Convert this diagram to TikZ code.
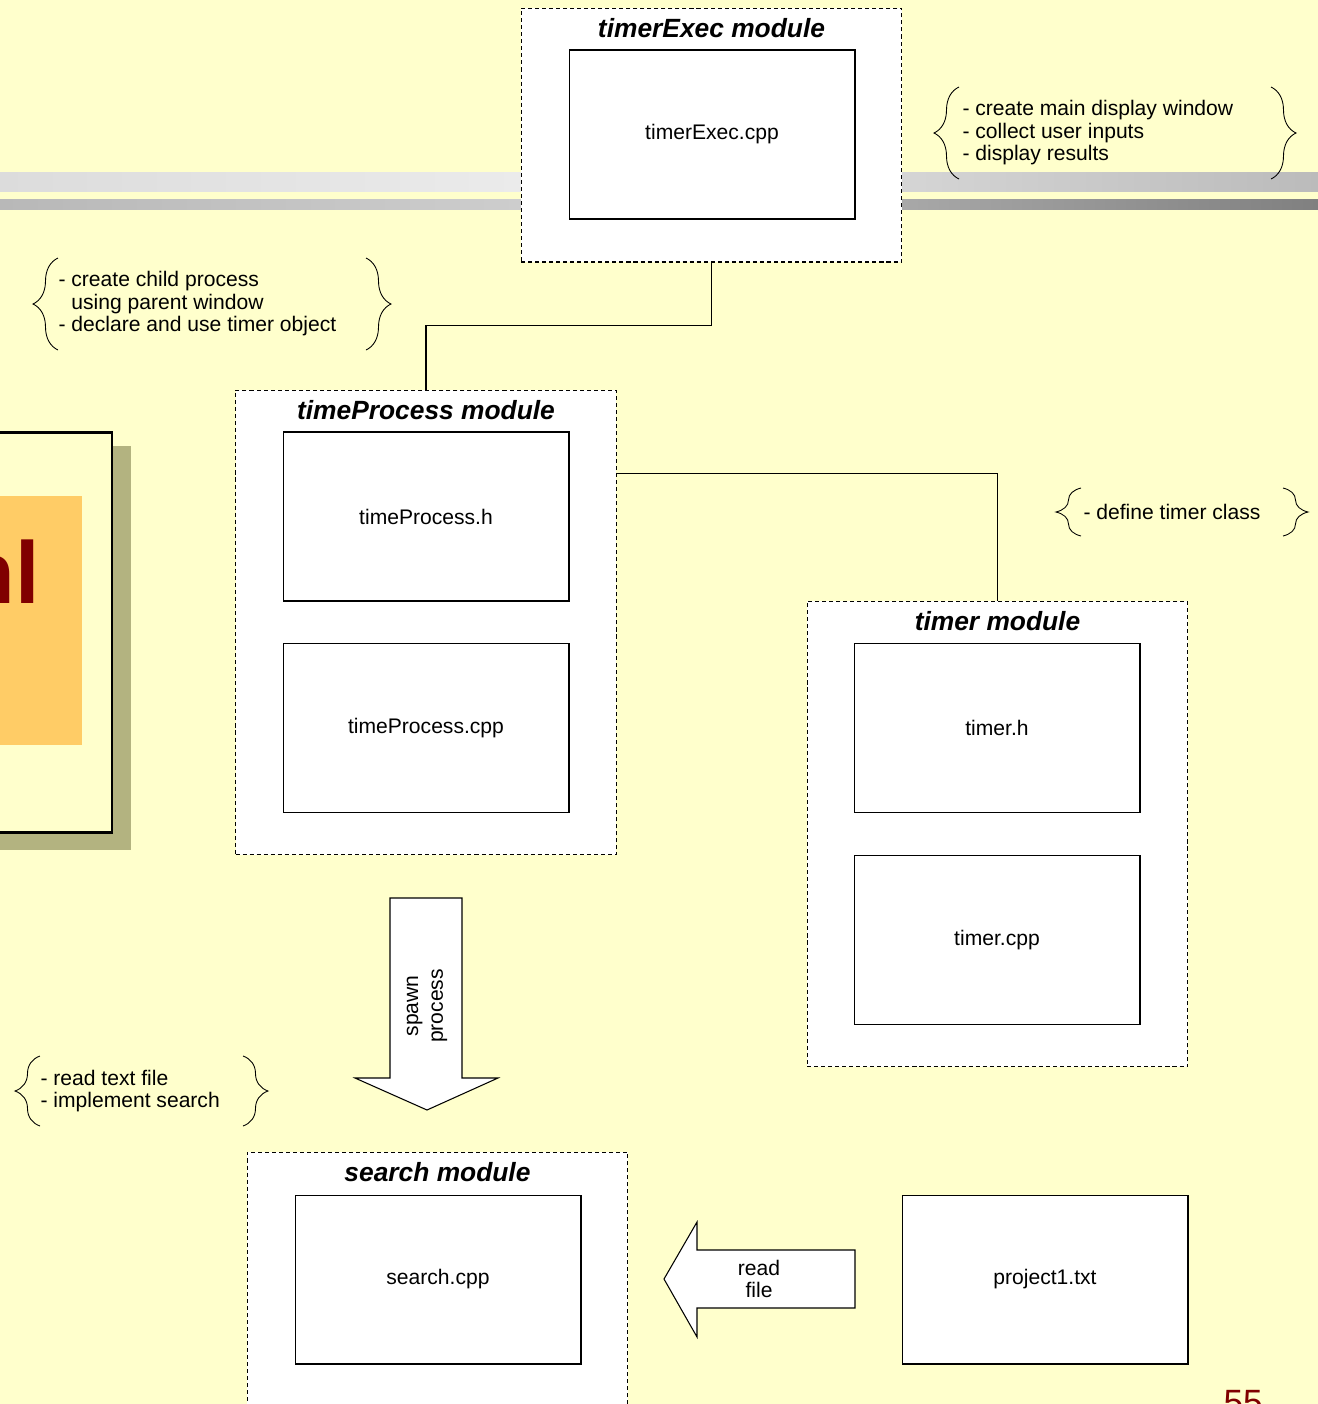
\documentclass[tikz,border=0pt]{standalone}
\usepackage{fontspec}
\setmainfont{Liberation Sans}
\usepackage{xcolor}
\usetikzlibrary{positioning,decorations.pathreplacing}
\definecolor{slidebg}{RGB}{255,255,204}
\definecolor{slideshadow}{RGB}{179,179,128}
\definecolor{slideorange}{RGB}{255,204,102}
\definecolor{slidered}{RGB}{128,0,0}
\definecolor{barAa}{RGB}{220,220,220}
\definecolor{barAb}{RGB}{235,235,235}
\definecolor{barAc}{RGB}{213,213,213}
\definecolor{barAd}{RGB}{187,187,187}
\definecolor{barBa}{RGB}{184,184,184}
\definecolor{barBb}{RGB}{205,205,205}
\definecolor{barBc}{RGB}{168,168,168}
\definecolor{barBd}{RGB}{128,128,128}

\begin{document}
\begin{tikzpicture}[x=0.02cm, y=-0.02cm, line width=0.6pt,
  every node/.style={font=\fontsize{12}{12.8}\selectfont},
  modbox/.style={draw, dash pattern=on 2.3pt off 1.7pt, fill=white, minimum width=7.62cm, inner sep=0},
  modtitle/.style={anchor=base, font=\fontsize{15}{18}\selectfont\bfseries\itshape},
  filebox/.style={draw, fill=white, minimum width=5.72cm, minimum height=3.38cm},
  note/.style={anchor=west, align=left, inner sep=0},
  notebrace/.style={decorate, decoration={brace, amplitude=0.5cm}, line width=0.5pt},
  blockarrow/.style={draw, fill=white}]
  \useasboundingbox (0,0) rectangle (1318,1404);
  \clip (0,0) rectangle (1318,1404);
  \fill[slidebg] (0,0) rectangle (1318,1404);

  % slide bars
  \shade[left color=barAa, right color=barAb] (0,172) rectangle (521,191);
  \shade[left color=barAc, right color=barAd] (902,172) rectangle (1318,191);
  \shade[left color=barBa, right color=barBb] (0,199) rectangle (521,209);
  \shade[left color=barBc, right color=barBd] (902,199) rectangle (1318,209);

  % slide thumbnail on the left
  \fill[slideshadow] (-10,446) rectangle (131,850);
  \draw[line width=1.7pt, fill=slidebg] (-10,432) rectangle (112,832);
  \fill[slideorange] (-10,496) rectangle (82,745);
  \node[anchor=base east, inner sep=0, text=slidered, font=\fontsize{50}{60}\selectfont\bfseries] (slidetitle) at (40,603) {nl};

  % modules
  \node[modbox, minimum height=5.08cm] (execmod) at (711.5,135) {};
  \node[modtitle] (exectitle) at ([yshift=-0.6cm]execmod.north) {timerExec module};
  \node[filebox] (execcpp) at (712,134.5) {timerExec.cpp};

  \node[modbox, minimum height=9.3cm] (procmod) at (426,622.5) {};
  \node[modtitle] (proctitle) at ([yshift=-0.6cm]procmod.north) {timeProcess module};
  \node[filebox] (proch) at (426,516.5) {timeProcess.h};
  \node[filebox] (proccpp) at (426,728) {timeProcess.cpp};

  \node[modbox, minimum height=9.32cm] (timermod) at (997.5,834) {};
  \node[modtitle] (timertitle) at ([yshift=-0.6cm]timermod.north) {timer module};
  \node[filebox] (timerh) at (997,728) {timer.h};
  \node[filebox] (timercpp) at (997,940) {timer.cpp};

  \node[modbox, minimum height=6cm] (searchmod) at (437.5,1302) {};
  \node[modtitle] (searchtitle) at ([yshift=-0.6cm]searchmod.north) {search module};
  \node[filebox] (searchcpp) at (438,1279.5) {search.cpp};

  \node[filebox] (projtxt) at (1045,1279.5) {project1.txt};

  % connectors
  \draw (execmod.south) -- ++(0,63) -| (procmod.north);
  \draw ([yshift=-1.68cm]procmod.north east) -| (timermod.north);

  % block arrows
  \draw[blockarrow] (390,898) -- (462,898) -- (462,1078) -- (498,1078) -- (427,1110) -- (355,1078) -- (390,1078) -- cycle;
  \node[rotate=90, align=center, font=\fontsize{12}{14}\selectfont] (spawnlbl) at (427,1006) {spawn\\process};
  \draw[blockarrow] (855,1250) -- (697,1250) -- (697,1222) -- (664,1279) -- (697,1337) -- (697,1308) -- (855,1308) -- cycle;
  \node[align=center, font=\fontsize{12}{13}\selectfont] (readlbl) at (759,1279) {read\\file};

  % notes
  \node[note] (execnote) at (962,133) {- create main display window\\- collect user inputs\\- display results};
  \draw[notebrace] (959,179) -- (959,87);
  \draw[notebrace] (1271,87) -- (1271,179);

  \node[note] (procnote) at (58,304) {- create child process\\\phantom{- }using parent window\\- declare and use timer object};
  \draw[notebrace] (58,350) -- (58,258);
  \draw[notebrace] (366,258) -- (366,350);

  \node[note] (timernote) at (1083,512) {- define timer class};
  \draw[notebrace] (1081,536) -- (1081,488);
  \draw[notebrace] (1283,488) -- (1283,536);

  \node[note] (searchnote) at (40,1091) {- read text file\\- implement search};
  \draw[notebrace] (40,1126) -- (40,1056);
  \draw[notebrace] (243,1056) -- (243,1126);

  \node[anchor=base west, inner sep=0, text=slidered, font=\fontsize{20}{24}\selectfont] (pagenum) at (1223,1414) {55};
\end{tikzpicture}
\end{document}
